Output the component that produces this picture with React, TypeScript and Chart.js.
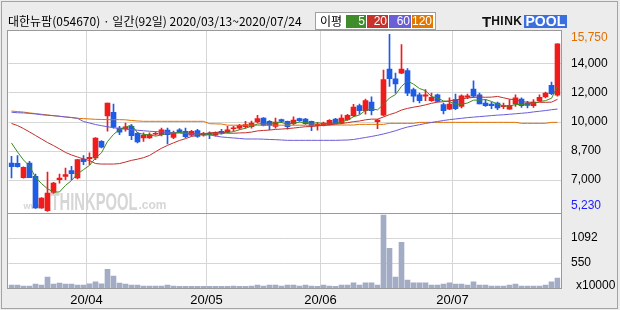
import React, { useEffect, useRef } from "react";
import { Chart, registerables } from "chart.js";

Chart.register(...registerables);

// ---------------- data ----------------
const marDays = [13, 16, 17, 18, 19, 20, 23, 24, 25, 26, 27, 30, 31];
const aprDays = [1, 2, 3, 6, 7, 8, 9, 10, 13, 14, 16, 17, 20, 21, 22, 23, 24, 27, 28, 29];
const mayDays = [4, 6, 7, 8, 11, 12, 13, 14, 15, 18, 19, 20, 21, 22, 25, 26, 27, 28, 29];
const junDays = [1, 2, 3, 4, 5, 8, 9, 10, 11, 12, 15, 16, 17, 18, 19, 22, 23, 24, 25, 26, 29, 30];
const julDays = [1, 2, 3, 6, 7, 8, 9, 10, 13, 14, 15, 16, 17, 20, 21, 22, 23, 24];

const openPrices = [
  8100, 8080, 7230, 8100, 7310, 5430, 5270, 6360, 7110, 7310,
  7650, 7210, 8340, 8360, 8400, 9390, 10900, 11120, 10180, 10140,
  10280, 9870, 9590, 9590, 9810, 9790, 10060, 9630, 10080, 9990,
  9750, 10030, 9750, 9860, 9750, 9990, 9950, 10140, 10180, 10260,
  10260, 10540, 10780, 10580, 10280, 10680, 10580, 10440, 10740, 10720,
  10580, 10320, 10320, 10380, 10720, 10480, 10680, 10920, 11510, 11210,
  11730, 10560, 10940, 13690, 13110, 13450, 13590, 12460, 12160, 12070,
  11810, 12160, 11570, 11310, 11870, 11470, 12010, 12500, 12160, 11670,
  11610, 11670, 11450, 11310, 11610, 11910, 11670, 11510, 11810, 12030,
  12720, 12130,
];
const highPrices = [
  8500, 8540, 7880, 8200, 7450, 6050, 7570, 6950, 7450, 7800,
  7910, 8320, 8540, 8700, 9620, 9430, 11670, 11610, 10280, 10480,
  10380, 9930, 9890, 9890, 9950, 10180, 10180, 10000, 10150, 10180,
  10050, 10100, 9930, 9950, 9950, 10100, 10280, 10280, 10400, 10580,
  10600, 10940, 10800, 10620, 10780, 10720, 10600, 10840, 10780, 10760,
  10600, 10520, 10540, 10680, 10760, 10960, 11000, 11590, 11610, 11910,
  12040, 10700, 13630, 15750, 13450, 15140, 13710, 12560, 12260, 12460,
  12260, 12200, 11670, 11970, 12200, 12160, 12200, 12990, 12260, 11870,
  11730, 11730, 11670, 11870, 12160, 11970, 11770, 11870, 12160, 12320,
  12920, 15180,
];
const lowPrices = [
  7210, 7860, 7200, 7230, 5400, 5400, 5230, 6300, 6910, 7110,
  7110, 7150, 8000, 8000, 8300, 9000, 9990, 10180, 9790, 9990,
  9490, 9290, 9390, 9560, 9750, 9710, 9230, 9550, 9900, 9610,
  9700, 9620, 9700, 9550, 9700, 9830, 9890, 9990, 10100, 10180,
  10180, 10480, 10300, 10080, 10180, 10500, 10120, 10360, 10580, 10400,
  10020, 10060, 10300, 10350, 10420, 10430, 10640, 10860, 11000, 11000,
  10960, 10140, 10900, 12660, 12260, 13410, 12100, 11730, 11670, 11810,
  11770, 11730, 11020, 11270, 11270, 11370, 11920, 12010, 11610, 11470,
  11330, 11270, 11330, 11290, 11470, 11410, 11370, 11410, 11770, 11970,
  12160, 12070,
];
const closePrices = [
  7880, 7880, 7850, 7230, 5430, 6020, 6320, 6910, 7210, 7410,
  7470, 8300, 8180, 8440, 9590, 9040, 11670, 10240, 9930, 10260,
  9730, 9350, 9750, 9790, 9870, 10080, 9790, 9890, 9950, 9670,
  9990, 9690, 9870, 9790, 9910, 9890, 10080, 10180, 10340, 10380,
  10480, 10740, 10340, 10340, 10540, 10580, 10260, 10660, 10620, 10440,
  10320, 10400, 10480, 10640, 10440, 10780, 10940, 11430, 11210, 11810,
  11210, 10660, 13060, 13110, 12800, 13690, 12260, 12070, 11810, 12160,
  12010, 11770, 11210, 11610, 11330, 12100, 12100, 12070, 11610, 11510,
  11510, 11370, 11510, 11530, 11970, 11510, 11530, 11730, 12010, 12260,
  12220, 15180,
];
const ma5 = [
  9290, 8760, 8280, 7920, 7250, 6880, 6570, 6380, 6380, 6770,
  7060, 7460, 7710, 7960, 8400, 8710, 9380, 9800, 10090, 10230,
  10370, 9900, 9800, 9780, 9700, 9770, 9860, 9880, 9920, 9880,
  9860, 9840, 9830, 9800, 9850, 9830, 9910, 9970, 10080, 10170,
  10290, 10420, 10460, 10460, 10490, 10510, 10410, 10480, 10530, 10510,
  10460, 10490, 10450, 10460, 10460, 10550, 10660, 10850, 10960, 11230,
  11320, 11260, 11590, 11970, 12170, 12660, 12980, 12790, 12530, 12400,
  12060, 11960, 11790, 11750, 11590, 11600, 11670, 11840, 11840, 11880,
  11760, 11610, 11500, 11490, 11580, 11580, 11610, 11650, 11750, 11810,
  11950, 12680,
];
const ma20 = [
  10450, 10330, 10150, 9950, 9740, 9530, 9320, 9140, 8940, 8730,
  8580, 8460, 8340, 8250, 8070, 8040, 8040, 8040, 8070, 8160,
  8260, 8330, 8420, 8550, 8770, 8980, 9150, 9300, 9440, 9550,
  9680, 9750, 9830, 9900, 9910, 9960, 9880, 9870, 9890, 9900,
  9940, 10010, 10040, 10060, 10100, 10120, 10150, 10180, 10220, 10260,
  10270, 10310, 10340, 10380, 10410, 10450, 10500, 10560, 10600, 10670,
  10710, 10710, 10840, 10980, 11090, 11250, 11350, 11420, 11480, 11560,
  11650, 11720, 11750, 11800, 11850, 11910, 11970, 12000, 12020, 12010,
  12020, 12060, 11980, 11900, 11860, 11750, 11720, 11700, 11710, 11710,
  11720, 11890,
];
const ma60 = [
  11120, 11090, 11080, 11050, 11020, 10970, 10940, 10920, 10880, 10840,
  10810, 10760, 10570, 10480, 10390, 10320, 10260, 10200, 10150, 10110,
  10080, 10050, 10020, 9990, 9970, 9950, 9930, 9900, 9880, 9860,
  9830, 9810, 9780, 9770, 9710, 9650, 9620, 9590, 9560, 9530,
  9530, 9530, 9520, 9500, 9490, 9470, 9450, 9450, 9450, 9450,
  9450, 9450, 9450, 9450, 9450, 9460, 9470, 9500, 9560, 9620,
  9680, 9750, 9830, 9920, 10020, 10140, 10240, 10310, 10380, 10450,
  10510, 10570, 10630, 10680, 10720, 10760, 10800, 10830, 10860, 10890,
  10920, 10950, 10970, 11000, 11030, 11060, 11090, 11140, 11180, 11220,
  11270, 11310,
];
const ma120 = [
  11190, 11160, 11130, 11080, 11040, 11000, 10960, 10910, 10880, 10840,
  10800, 10760, 10740, 10720, 10700, 10690, 10680, 10680, 10680, 10670,
  10630, 10600, 10580, 10580, 10580, 10580, 10580, 10580, 10580, 10580,
  10580, 10580, 10580, 10440, 10430, 10420, 10350, 10350, 10350, 10350,
  10350, 10350, 10350, 10350, 10350, 10350, 10350, 10350, 10350, 10350,
  10350, 10350, 10350, 10350, 10360, 10360, 10360, 10360, 10400, 10400,
  10400, 10400, 10400, 10460, 10460, 10460, 10460, 10460, 10520, 10520,
  10520, 10520, 10520, 10520, 10520, 10520, 10520, 10520, 10520, 10520,
  10520, 10520, 10520, 10520, 10520, 10460, 10460, 10460, 10460, 10460,
  10520, 10520,
];
// volume, in units of 10,000 shares
const volumes = [
  65, 65, 43, 43, 86, 65, 237, 86, 108, 86,
  86, 65, 65, 93, 136, 93, 409, 258, 108, 86,
  65, 65, 43, 43, 43, 43, 65, 43, 36, 36,
  36, 36, 36, 36, 36, 36, 36, 43, 36, 36,
  43, 65, 43, 65, 65, 43, 65, 65, 43, 65,
  43, 36, 65, 43, 36, 65, 65, 115, 65, 115,
  115, 65, 1592, 868, 237, 997, 172, 115, 115, 115,
  65, 65, 86, 115, 86, 86, 65, 136, 65, 65,
  43, 43, 43, 65, 86, 43, 43, 43, 43, 65,
  136, 215,
];

const priceGridValues = [13990, 12265, 10540, 8815, 7090];
const priceTickLabels = ["14,000", "12,000", "10,000", "8,700", "7,000"];
const priceHighValue = 15750;
const priceHighLabel = "15,750";
const priceLowValue = 5230;
const priceLowLabel = "5,230";
const volumeGridValues = [1092, 546];
const volumeTickLabels = ["1092", "550"];
const volumeUnitLabel = "x10000";
const maPeriods = ["5", "20", "60", "120"];
const titleText = "대한뉴팜(054670) · 일간(92일) 2020/03/13~2020/07/24";

const PRICE_MIN = 5130;
const PRICE_MAX = 15950;
const VOL_MAX = 1638;

// ---------------- derived tables ----------------
const monthTable: [string, number[]][] = [
  ["03", marDays],
  ["04", aprDays],
  ["05", mayDays],
  ["06", junDays],
  ["07", julDays],
];
const categories: string[] = [];
const monthLabelAt: Record<number, string> = {};
monthTable.forEach(([m, days], mi) => {
  days.forEach((d, di) => {
    if (mi > 0 && di === 0) monthLabelAt[categories.length] = `20/${m}`;
    categories.push(`2020/${m}/${String(d).padStart(2, "0")}`);
  });
});

// ---------------- styles ----------------
const BG = "#ececec";
const GRID = "#d6d6d6";
const FRAME = "#9a9a9a";
const UP = "#f01c1c";
const DOWN = "#1f5ce6";
const VOL = "#a3acc5";
const MA_COLORS = ["#3c8c22", "#c0302c", "#6a5cd8", "#e07000"];
const LEGEND_COLORS = ["#3f8c2a", "#c8322a", "#6a5fd6", "#e07800"];
const AXIS_FONT = "'Liberation Sans', Arial, sans-serif";
const CJK_FONT = "'Noto Sans CJK KR', 'Noto Sans', sans-serif";

const candleColors = openPrices.map((o, i) => (closePrices[i] >= o ? UP : DOWN));

function framePlugin(kind: "price" | "volume") {
  return {
    id: "frame-" + kind,
    beforeDraw(chart: any) {
      const { ctx, chartArea: a } = chart;
      ctx.save();
      ctx.fillStyle = "#ffffff";
      ctx.fillRect(Math.floor(a.left) - 1, a.top, Math.ceil(a.right) - Math.floor(a.left) + 1, a.bottom - a.top);
      ctx.restore();
    },
    beforeDatasetsDraw(chart: any) {
      if (kind !== "price") return;
      const { ctx, chartArea: a } = chart;
      ctx.save();
      ctx.fillStyle = "#d6d6d6";
      ctx.textBaseline = "alphabetic";
      ctx.font = `bold 9px ${AXIS_FONT}`;
      ctx.fillText("www.", a.left + 15, a.bottom - 4);
      ctx.font = `bold 23px ${AXIS_FONT}`;
      const w = ctx.measureText("THINKPOOL").width;
      ctx.save();
      ctx.translate(a.left + 42, a.bottom - 3);
      ctx.scale(87 / w, 1);
      ctx.fillText("THINKPOOL", 0, 0);
      ctx.restore();
      ctx.font = `bold 12px ${AXIS_FONT}`;
      ctx.fillText(".com", a.left + 130, a.bottom - 4);
      ctx.restore();
    },
    afterDraw(chart: any) {
      const { ctx, chartArea: a } = chart;
      ctx.save();
      ctx.strokeStyle = FRAME;
      ctx.lineWidth = 1;
      const x0 = Math.floor(a.left) - 0.5;
      const y0 = kind === "price" ? Math.floor(a.top) - 0.5 : a.top + 0.5;
      const x1 = Math.round(a.right) + 0.5;
      const y1 = Math.round(a.bottom) + 0.5;
      ctx.strokeRect(x0, y0, x1 - x0, y1 - y0);
      ctx.font = `12px ${AXIS_FONT}`;
      ctx.textBaseline = "middle";
      ctx.textAlign = "left";
      if (kind === "price") {
        const ys = chart.scales.y;
        const clamp = (v: number) => Math.max(a.top + 7, Math.min(a.bottom - 7, v));
        ctx.fillStyle = "#e07000";
        ctx.fillText(priceHighLabel, 571, clamp(ys.getPixelForValue(priceHighValue)));
        ctx.fillStyle = "#1a1aff";
        ctx.fillText(priceLowLabel, 571, clamp(ys.getPixelForValue(priceLowValue)));
      } else {
        ctx.fillStyle = "#000";
        ctx.fillText(volumeUnitLabel, 576, a.bottom - 2);
      }
      ctx.restore();
    },
  };
}

function zeroPad(s: any) {
  s.paddingTop = 0;
  s.paddingBottom = 0;
  s.paddingLeft = 0;
  s.paddingRight = 0;
}

function xScale(showLabels: boolean) {
  return {
    type: "category" as const,
    offset: true,
    grid: {
      offset: true,
      drawTicks: false,
      color: (ctx: any) => (monthLabelAt[ctx.index] ? GRID : "rgba(0,0,0,0)"),
    },
    border: { display: false },
    ticks: {
      display: showLabels,
      autoSkip: false,
      maxRotation: 0,
      minRotation: 0,
      padding: 5,
      labelOffset: -3,
      color: "#000",
      font: { family: AXIS_FONT, size: 13 },
      callback: (_v: any, i: number) => monthLabelAt[i] || "",
    },
    afterFit: (s: any) => {
      s.height = showLabels ? 22 : 0;
      zeroPad(s);
    },
  };
}

function yScale(min: number, max: number, values: number[], labels: string[]) {
  return {
    type: "linear" as const,
    position: "right" as const,
    min,
    max,
    afterBuildTicks: (s: any) => {
      s.ticks = values.map((v) => ({ value: v }));
    },
    grid: { color: GRID, drawTicks: false },
    border: { display: false },
    ticks: {
      padding: 10.5,
      color: "#000",
      font: { family: AXIS_FONT, size: 12 },
      callback: (_v: any, i: number) => labels[i],
    },
    afterFit: (s: any) => {
      s.width = 59.5;
      zeroPad(s);
    },
  };
}

export default function App() {
  const priceRef = useRef<HTMLCanvasElement>(null);
  const volRef = useRef<HTMLCanvasElement>(null);

  useEffect(() => {
    const maSeries = [ma5, ma20, ma60, ma120];
    const priceChart = new Chart(priceRef.current as HTMLCanvasElement, {
      type: "bar",
      data: {
        labels: categories,
        datasets: [
          ...maSeries.map((d, k) => ({
            type: "line" as const,
            label: "MA" + maPeriods[k],
            data: d,
            borderColor: MA_COLORS[k],
            borderWidth: 1,
            pointRadius: 0,
            tension: 0,
            fill: false,
            order: 1,
          })),
          {
            type: "bar" as const,
            label: "wick",
            data: lowPrices.map((l, i) => [l, highPrices[i]]) as any,
            backgroundColor: candleColors,
            barThickness: 1,
            grouped: false,
            borderSkipped: false,
            order: 3,
          },
          {
            type: "bar" as const,
            label: "body",
            data: openPrices.map((o, i) => [Math.min(o, closePrices[i]), Math.max(o, closePrices[i])]) as any,
            backgroundColor: candleColors,
            barThickness: 5,
            minBarLength: 1,
            grouped: false,
            borderSkipped: false,
            order: 2,
          },
        ],
      },
      options: {
        responsive: false,
        animation: false,
        devicePixelRatio: 1,
        layout: { padding: { left: 8.5, top: 31, right: 0, bottom: 1 } },
        plugins: { legend: { display: false }, tooltip: { enabled: false } },
        scales: {
          x: xScale(false) as any,
          y: yScale(PRICE_MIN, PRICE_MAX, priceGridValues, priceTickLabels) as any,
        },
      },
      plugins: [framePlugin("price")],
    });

    const volChart = new Chart(volRef.current as HTMLCanvasElement, {
      type: "bar",
      data: {
        labels: categories,
        datasets: [
          {
            label: "volume",
            data: volumes,
            backgroundColor: VOL,
            barThickness: 5,
            grouped: false,
          },
        ],
      },
      options: {
        responsive: false,
        animation: false,
        devicePixelRatio: 1,
        layout: { padding: { left: 8.5, top: 0, right: 0, bottom: 0 } },
        plugins: { legend: { display: false }, tooltip: { enabled: false } },
        scales: {
          x: xScale(true) as any,
          y: yScale(0, VOL_MAX, volumeGridValues, volumeTickLabels) as any,
        },
      },
      plugins: [framePlugin("volume")],
    });

    return () => {
      priceChart.destroy();
      volChart.destroy();
    };
  }, []);

  return (
    <div
      style={{
        position: "fixed",
        left: 0,
        top: 0,
        width: 620,
        height: 310,
        background: BG,
        overflow: "hidden",
      }}
    >
      <div
        style={{
          position: "absolute",
          left: 1,
          top: 1,
          width: 617,
          height: 308,
          border: "1px solid #a4a4a4",
          boxSizing: "border-box",
        }}
      />
      <canvas
        ref={priceRef}
        width={620}
        height={214}
        style={{ position: "absolute", left: 0, top: 0, width: 620, height: 214 }}
      />
      <canvas
        ref={volRef}
        width={620}
        height={97}
        style={{ position: "absolute", left: 0, top: 213, width: 620, height: 97 }}
      />
      <div
        style={{
          position: "absolute",
          left: 8,
          top: 13,
          font: `12px ${CJK_FONT}`,
          lineHeight: "16px",
          color: "#000",
          whiteSpace: "pre",
        }}
      >
        {titleText}
      </div>
      <div
        style={{
          position: "absolute",
          left: 315,
          top: 12,
          width: 121,
          height: 18,
          background: "#fff",
          border: "1px solid #a0a0a0",
          boxSizing: "border-box",
        }}
      >
        <span
          style={{
            position: "absolute",
            left: 4,
            top: 0,
            font: `12px ${CJK_FONT}`,
            lineHeight: "16px",
            color: "#000",
          }}
        >
          이평
        </span>
        {maPeriods.map((p, k) => (
          <span
            key={p}
            style={{
              position: "absolute",
              left: [30, 51, 73, 96][k],
              top: 2,
              width: [20, 21, 22, 21][k],
              height: 13,
              background: LEGEND_COLORS[k],
              color: "#fff",
              font: `12px ${AXIS_FONT}`,
              lineHeight: "13px",
              textAlign: "right",
              boxSizing: "border-box",
              paddingRight: 1,
            }}
          >
            {p}
          </span>
        ))}
      </div>
      <div
        style={{
          position: "absolute",
          left: 482,
          top: 14,
          height: 14,
          display: "flex",
          alignItems: "flex-end",
          fontFamily: AXIS_FONT,
          fontWeight: "bold",
          lineHeight: "13px",
        }}
      >
        <span style={{ fontSize: 15, color: "#111" }}>T</span>
        <span style={{ fontSize: 12, color: "#111", letterSpacing: 0.5 }}>HINK</span>
        <span
          style={{
            fontSize: 14,
            color: "#fff",
            background: "#3b6fe0",
            padding: "0 2px",
            marginLeft: 1,
            lineHeight: "13px",
          }}
        >
          POOL
        </span>
      </div>
    </div>
  );
}
